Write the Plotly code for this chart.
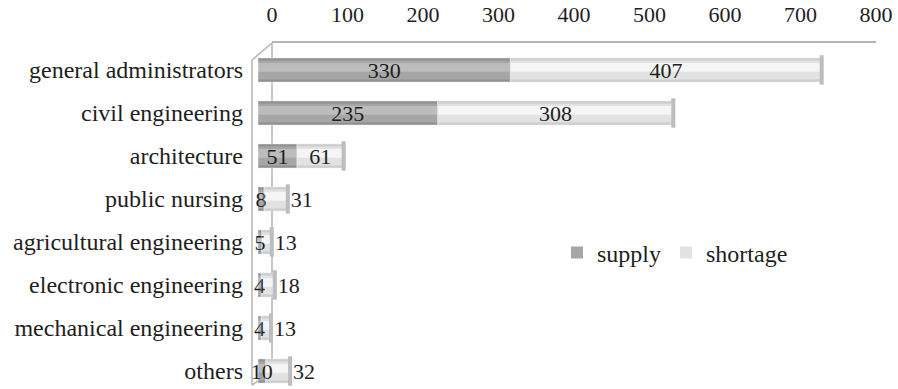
import plotly.graph_objects as go

# Data
categories = [
    "general administrators",
    "civil engineering",
    "architecture",
    "public nursing",
    "agricultural engineering",
    "electronic engineering",
    "mechanical engineering",
    "others",
]
supply = [330, 235, 51, 8, 5, 4, 4, 10]
shortage = [407, 308, 61, 31, 13, 18, 13, 32]
tick_values = [0, 100, 200, 300, 400, 500, 600, 700, 800]

W, H = 898, 389
FONT = "Liberation Serif, Times New Roman, serif"
TEXT = "#1e1e1e"
FRAME = "#b4b4b4"


def fx(px):
    return px / W


def fy(py):
    return 1 - py / H


# shortage labels sit inside the long bars and just past the end of the short ones
short_pos = ["inside" if v > 50 else "outside" for v in shortage]
totals = [s + h for s, h in zip(supply, shortage)]

fig = go.Figure()

# cylinder-like shading: three stacked layers per series (edge, body, highlight)
layers = [
    (0.56, 0.0, "#909090", "#cdcdcd"),
    (0.44, 0.0, "#a6a6a6", "#e2e2e2"),
    (0.20, -0.06, "#bcbcbc", "#f5f5f5"),
]
for i, (w, shift, c_sup, c_sh) in enumerate(layers):
    off = -w / 2 + shift
    fig.add_trace(go.Bar(
        name="supply", y=categories, x=supply, base=[0] * len(supply),
        orientation="h", width=w, offset=off,
        marker=dict(color=c_sup, line=dict(width=0)),
        showlegend=(i == 1), legendrank=1, hoverinfo="skip",
    ))
    fig.add_trace(go.Bar(
        name="shortage", y=categories, x=shortage, base=supply,
        orientation="h", width=w, offset=off,
        marker=dict(color=c_sh, line=dict(width=0)),
        showlegend=(i == 1), legendrank=2, hoverinfo="skip",
    ))

# rounded end cap of each cylinder
fig.add_trace(go.Scatter(
    x=totals, y=categories, mode="markers",
    marker=dict(symbol="line-ns-open", size=21, color="#bdbdbd",
                line=dict(color="#bdbdbd", width=4)),
    showlegend=False, hoverinfo="skip", cliponaxis=False,
))

# value labels carried by transparent bars on top of everything
fig.add_trace(go.Bar(
    y=categories, x=supply, base=[0] * len(supply), orientation="h",
    width=0.56, offset=-0.28, marker=dict(color="rgba(0,0,0,0)"),
    text=[str(v) for v in supply], textposition="inside", textangle=0,
    insidetextanchor="middle", constraintext="none",
    insidetextfont=dict(family=FONT, size=22, color=TEXT),
    showlegend=False, hoverinfo="skip", cliponaxis=False,
))
fig.add_trace(go.Bar(
    y=categories, x=shortage, base=supply, orientation="h",
    width=0.56, offset=-0.28, marker=dict(color="rgba(0,0,0,0)"),
    text=[str(v) for v in shortage], textposition=short_pos, textangle=0,
    insidetextanchor="middle", constraintext="none",
    insidetextfont=dict(family=FONT, size=22, color=TEXT),
    outsidetextfont=dict(family=FONT, size=22, color=TEXT),
    showlegend=False, hoverinfo="skip", cliponaxis=False,
))

# empty trace that binds the top value axis to the plot
fig.add_trace(go.Scatter(x=[], y=[], xaxis="x2", yaxis="y", showlegend=False))

# chart-wall outline
frame = [
    (252, 60, 252, 385),
    (272, 43, 272, 372),
    (252, 60, 272, 43),
    (252, 385, 272, 372),
]
for x0, y0, x1, y1 in frame:
    fig.add_shape(type="line", xref="paper", yref="paper",
                  x0=fx(x0), y0=fy(y0), x1=fx(x1), y1=fy(y1),
                  line=dict(color=FRAME, width=1.5), layer="below")

row0, step = 70, 43
fig.update_layout(
    width=W, height=H,
    margin=dict(l=0, r=0, t=0, b=0, autoexpand=False),
    paper_bgcolor="white", plot_bgcolor="rgba(0,0,0,0)",
    barmode="overlay",
    font=dict(family=FONT, size=24, color=TEXT),
    xaxis=dict(domain=[fx(258), fx(876)], range=[0, 808], visible=False,
               fixedrange=True, automargin=False),
    xaxis2=dict(domain=[fx(272), fx(876)], range=[0, 800], anchor="y",
                side="top", tickvals=tick_values,
                ticktext=[str(v) for v in tick_values],
                showline=True, linecolor=FRAME, linewidth=2,
                showgrid=False, zeroline=False, ticks="",
                ticklabelstandoff=10, automargin=False,
                tickfont=dict(family=FONT, size=22, color=TEXT)),
    yaxis=dict(domain=[0, fy(43)], type="category",
               categoryorder="array", categoryarray=categories,
               range=[(H - row0) / step, (43 - row0) / step],
               showline=False, showgrid=False, zeroline=False, ticks="",
               ticklabelstandoff=14, automargin=False,
               tickfont=dict(family=FONT, size=24, color=TEXT)),
    legend=dict(orientation="h", x=fx(557), y=fy(253), xanchor="left",
                yanchor="middle", bgcolor="rgba(0,0,0,0)",
                font=dict(family=FONT, size=24, color=TEXT),
                traceorder="normal"),
    showlegend=True,
)

fig.write_html("out.html")
